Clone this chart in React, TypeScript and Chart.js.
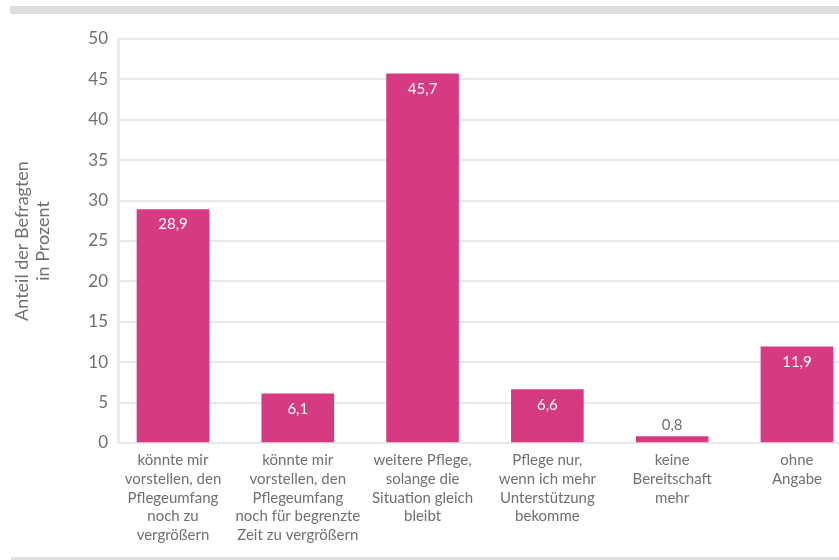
import React, { useEffect, useRef } from "react";
import { Chart, registerables } from "chart.js";

Chart.register(...registerables);

const categories: string[][] = [
  ["könnte mir", "vorstellen, den", "Pflegeumfang", "noch zu", "vergrößern"],
  ["könnte mir", "vorstellen, den", "Pflegeumfang", "noch für begrenzte", "Zeit zu vergrößern"],
  ["weitere Pflege,", "solange die", "Situation gleich", "bleibt"],
  ["Pflege nur,", "wenn ich mehr", "Unterstützung", "bekomme"],
  ["keine", "Bereitschaft", "mehr"],
  ["ohne", "Angabe"],
];
const values: number[] = [28.9, 6.1, 45.7, 6.6, 0.8, 11.9];
const valueLabels: string[] = ["28,9", "6,1", "45,7", "6,6", "0,8", "11,9"];
const yTitle: string[] = ["Anteil der Befragten", "in Prozent"];

const FONT = "Lato, 'Open Sans', sans-serif";
const TEXT = "#707070";
const BAR = "#d63b82";

const labelPlugin = {
  id: "valueLabels",
  afterDatasetsDraw(chart: any) {
    const ctx = chart.ctx;
    const meta = chart.getDatasetMeta(0);
    ctx.save();
    ctx.font = `15px ${FONT}`;
    ctx.textAlign = "center";
    ctx.textBaseline = "middle";
    meta.data.forEach((bar: any, i: number) => {
      const h = bar.base - bar.y;
      if (h > 30) {
        ctx.fillStyle = "#ffffff";
        ctx.fillText(valueLabels[i], bar.x, bar.y + 15);
      } else {
        ctx.fillStyle = TEXT;
        ctx.fillText(valueLabels[i], bar.x, bar.y - 11);
      }
    });
    ctx.restore();
  },
};

export default function App() {
  const ref = useRef<HTMLCanvasElement>(null);
  useEffect(() => {
    if (!ref.current) return;
    const chart = new Chart(ref.current, {
      type: "bar",
      data: {
        datasets: [
          {
            data: values.map((v, i) => ({ x: i, y: v })),
            backgroundColor: BAR,
            barThickness: 72,
          },
        ],
      },
      options: {
        animation: false,
        responsive: false,
        layout: { padding: { top: 39, left: 0, right: 0, bottom: 0 } },
        plugins: { legend: { display: false }, tooltip: { enabled: false } },
        scales: {
          x: {
            type: "linear",
            offset: false,
            min: -0.4407,
            max: 5.337,
            grid: { display: false, drawTicks: false, offset: false },
            border: { display: false },
            afterBuildTicks: (axis: any) => {
              axis.ticks = categories.map((_, i) => ({ value: i }));
            },
            afterFit: (axis: any) => {
              axis.height = 117;
            },
            ticks: {
              autoSkip: false,
              maxRotation: 0,
              minRotation: 0,
              padding: 8,
              color: TEXT,
              font: { family: FONT, size: 15, lineHeight: 1.25 },
              callback: (v: any) => categories[v as number] ?? "",
            },
          },
          y: {
            min: 0,
            max: 50,
            grid: { color: "#e8e8e8", lineWidth: 2, drawTicks: false },
            border: { color: "#ebebeb", width: 3 },
            afterFit: (axis: any) => {
              axis.width = 118;
            },
            ticks: {
              stepSize: 5,
              padding: 10,
              color: TEXT,
              font: { family: FONT, size: 17 },
            },
            title: {
              display: true,
              text: yTitle,
              color: TEXT,
              padding: { top: 11, bottom: 0 },
              font: { family: FONT, size: 18, lineHeight: 1.2 },
            },
          },
        },
      },
      plugins: [labelPlugin],
    });
    return () => chart.destroy();
  }, []);

  return (
    <div style={{ position: "fixed", left: 0, top: 0, width: 839, height: 560, overflow: "hidden", background: "#fff" }}>
      <div style={{ position: "absolute", left: 10, top: 6, right: 0, height: 8, background: "#dedede" }} />
      <canvas ref={ref} width={839} height={560} style={{ position: "absolute", left: 0, top: 0 }} />
      <div style={{ position: "absolute", left: 11, top: 557, right: 0, height: 3, background: "#e0e0e0" }} />
    </div>
  );
}
